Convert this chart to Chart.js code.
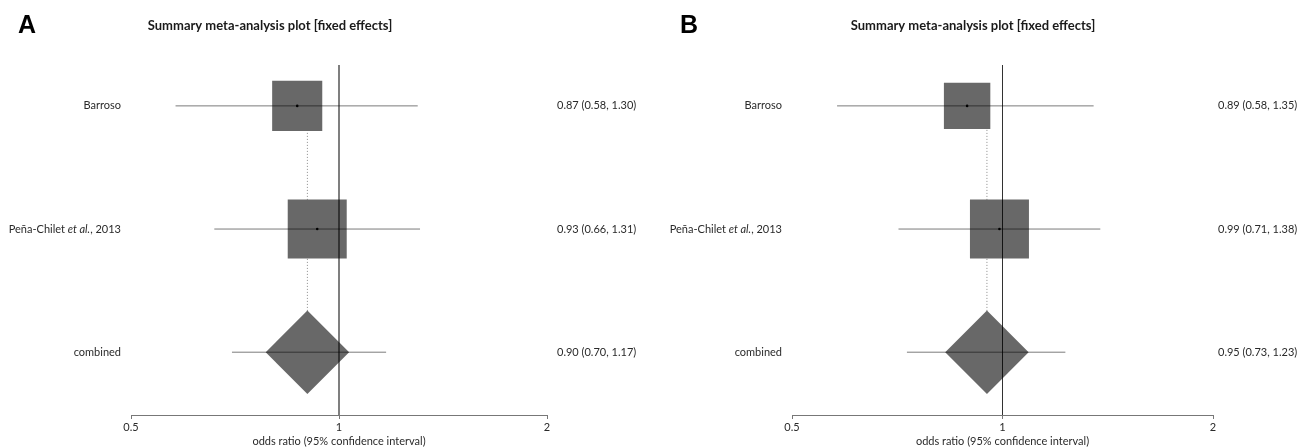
<!DOCTYPE html>
<html>
<head>
<meta charset="utf-8">
<script src="https://cdn.jsdelivr.net/npm/chart.js@4.4.0/dist/chart.umd.min.js"></script>
<style>
	body { margin: 0; background: #fff; }
	#wrap { position: relative; width: 1311px; height: 448px; }
	canvas { position: absolute; top: 0; }
</style>
</head>
<body>
<div id="wrap">
	<canvas id="chart-a" width="655" height="448" style="left:0"></canvas>
	<canvas id="chart-b" width="656" height="448" style="left:655px"></canvas>
</div>
<script>
const studies = ['Barroso', 'Peña-Chilet et al., 2013', 'combined']
const oddsA = [0.87, 0.93, 0.90]
const lowerA = [0.58, 0.66, 0.70]
const upperA = [1.30, 1.31, 1.17]
const oddsB = [0.89, 0.99, 0.95]
const lowerB = [0.58, 0.71, 0.73]
const upperB = [1.35, 1.38, 1.23]
const xTicks = [0.5, 1, 2]
const panelTitle = 'Summary meta-analysis plot [fixed effects]'
const axisTitle = 'odds ratio (95% confidence interval)'

const BOX_MAX = 59 // side of the biggest box in px
const Y_MIN = 0.668
const Y_MAX = 3.51
const LINE = 'rgba(0, 0, 0, 0.52)'
const FILL = '#686868'
const FONT = 'Lato, "Open Sans", sans-serif'

// text next to the plot: study names, estimates, title and panel letter
const forestText = {
	id: 'forestText',
	afterDraw(chart, args, opts) {
		const { ctx, chartArea } = chart
		const y = chart.scales.y
		ctx.save()
		ctx.fillStyle = '#2a2a2a'
		ctx.textBaseline = 'middle'

		studies.forEach((name, i) => {
			const py = y.getPixelForValue(i + 1)
			// "et al." is set in italics
			const parts = name.split('et al.')
			const pieces = parts.length > 1
				? [[parts[0], 'normal'], ['et al.', 'italic'], [parts[1], 'normal']]
				: [[name, 'normal']]
			let width = 0
			pieces.forEach(p => {
				ctx.font = `${p[1]} 11px ${FONT}`
				width += ctx.measureText(p[0]).width
			})
			let px = chartArea.left - 10 - width
			ctx.textAlign = 'left'
			pieces.forEach(p => {
				ctx.font = `${p[1]} 11px ${FONT}`
				ctx.fillText(p[0], px, py)
				px += ctx.measureText(p[0]).width
			})

			const o = opts.odds[i], lo = opts.lower[i], hi = opts.upper[i]
			ctx.font = `11px ${FONT}`
			ctx.fillText(`${o.toFixed(2)} (${lo.toFixed(2)}, ${hi.toFixed(2)})`, chartArea.right + opts.valueGap, py)
		})

		ctx.textBaseline = 'alphabetic'
		ctx.textAlign = 'center'
		ctx.fillStyle = '#1a1a1a'
		ctx.font = `bold 13px ${FONT}`
		ctx.fillText(panelTitle, opts.titleX, 30)

		ctx.textAlign = 'left'
		ctx.fillStyle = '#000'
		ctx.font = 'bold 25px "Liberation Sans", Arial, sans-serif'
		ctx.fillText(opts.letter, opts.letterX, 33)
		ctx.restore()
	}
}

function buildChart(canvasId, panel) {
	const { odds, lower, upper } = panel
	const rows = studies.map((_, i) => i + 1)
	const studyRows = rows.slice(0, -1)
	const combined = rows.length - 1

	// fixed effects: box side goes with 1/se
	const se = lower.map((lo, i) => (Math.log(upper[i]) - Math.log(lo)) / (2 * 1.96))
	const minSe = Math.min(...se.slice(0, combined))
	const boxRadius = studyRows.map((_, i) => (BOX_MAX * minSe / se[i]) / Math.SQRT2)

	const ciSets = rows.map((row, i) => ({
		data: [{ x: lower[i], y: row }, { x: upper[i], y: row }],
		showLine: true,
		borderColor: LINE,
		borderWidth: 1,
		pointRadius: 0,
		order: 1,
	}))

	new Chart(document.getElementById(canvasId), {
		type: 'scatter',
		data: {
			datasets: [
				{
					// dotted line through the combined estimate
					data: [{ x: odds[combined], y: 1 }, { x: odds[combined], y: rows.length }],
					showLine: true,
					borderColor: '#8a8a8a',
					borderWidth: 1,
					borderDash: [1, 2],
					pointRadius: 0,
					order: 6,
				},
				{
					data: studyRows.map((row, i) => ({ x: odds[i], y: row })),
					pointStyle: 'rect',
					pointRadius: boxRadius,
					pointBackgroundColor: FILL,
					pointBorderWidth: 0,
					order: 4,
				},
				{
					data: [{ x: odds[combined], y: rows.length }],
					pointStyle: 'rectRot',
					pointRadius: BOX_MAX / Math.SQRT2,
					pointBackgroundColor: FILL,
					pointBorderWidth: 0,
					order: 4,
				},
				...ciSets,
				{
					// line of no effect
					data: [{ x: 1, y: Y_MIN }, { x: 1, y: Y_MAX }],
					showLine: true,
					borderColor: 'rgba(0, 0, 0, 0.42)',
					borderWidth: 1,
					pointRadius: 0,
					order: 0,
				},
				{
					data: studyRows.map((row, i) => ({ x: odds[i], y: row })),
					pointRadius: 1.3,
					pointBackgroundColor: '#000',
					pointBorderWidth: 0,
					order: 0,
				},
			],
		},
		options: {
			responsive: false,
			animation: false,
			events: [],
			layout: {
				autoPadding: false,
				padding: { left: panel.padLeft, right: panel.padRight, top: 65, bottom: 0 },
			},
			plugins: {
				legend: { display: false },
				tooltip: { enabled: false },
				forestText: {
					odds, lower, upper,
					letter: panel.letter,
					letterX: panel.letterX,
					titleX: panel.titleX,
					valueGap: panel.valueGap,
				},
			},
			scales: {
				x: {
					type: 'logarithmic',
					min: xTicks[0],
					max: xTicks[xTicks.length - 1],
					afterBuildTicks: axis => {
						axis.ticks = xTicks.map(v => ({ value: v }))
					},
					grid: {
						display: true,
						drawOnChartArea: false,
						drawTicks: true,
						tickLength: 4,
						tickColor: '#777',
					},
					border: { display: true, color: '#777', width: 1 },
					ticks: {
						padding: 3,
						color: '#2a2a2a',
						font: { family: FONT, size: 11, lineHeight: 1 },
						callback: v => String(v),
					},
					title: {
						display: true,
						text: axisTitle,
						color: '#2a2a2a',
						font: { family: FONT, size: 11, lineHeight: 1 },
						padding: { top: 0, bottom: 1 },
					},
				},
				y: {
					type: 'linear',
					reverse: true,
					min: Y_MIN,
					max: Y_MAX,
					display: false,
				},
			},
		},
		plugins: [forestText],
	})
}

buildChart('chart-a', {
	odds: oddsA, lower: lowerA, upper: upperA,
	letter: 'A', letterX: 18, titleX: 270, valueGap: 10,
	padLeft: 131, padRight: 108,
})
buildChart('chart-b', {
	odds: oddsB, lower: lowerB, upper: upperB,
	letter: 'B', letterX: 25, titleX: 318, valueGap: 5,
	padLeft: 137, padRight: 98,
})
</script>
</body>
</html>
